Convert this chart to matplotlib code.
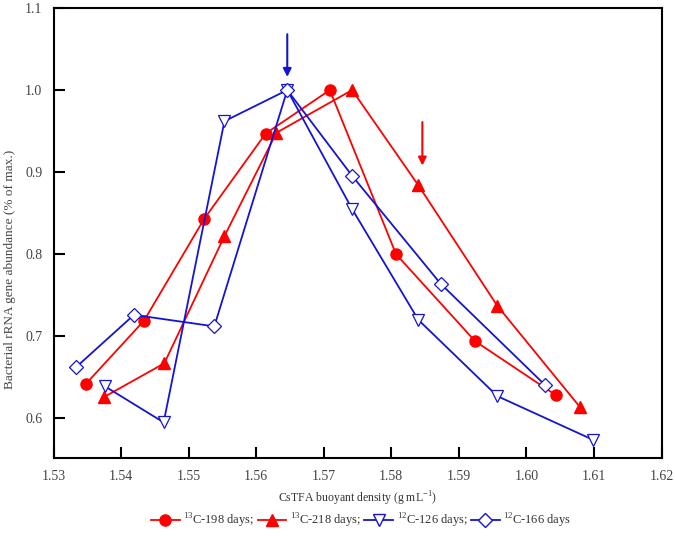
import matplotlib
matplotlib.use("Agg")
import matplotlib.pyplot as plt
from matplotlib.lines import Line2D

plt.rcParams["font.family"] = ["Liberation Serif", "DejaVu Serif"]
plt.rcParams["mathtext.fontset"] = "custom"
plt.rcParams["mathtext.rm"] = "Liberation Serif"

RED = "#ff0000"
BLUE = "#1414d2"

# 13C - 198 days (filled red circles)
c198_x = [1.5348, 1.5434, 1.5523, 1.5614, 1.5709, 1.5807, 1.5924, 1.6044]
c198_y = [0.642, 0.719, 0.843, 0.947, 1.000, 0.800, 0.694, 0.628]

# 13C - 218 days (filled red triangles)
c218_x = [1.5375, 1.5464, 1.5553, 1.5630, 1.5742, 1.5840, 1.5957, 1.6079]
c218_y = [0.626, 0.667, 0.822, 0.948, 1.000, 0.884, 0.737, 0.614]

# 12C - 126 days (open blue down-triangles)
c126_x = [1.5376, 1.5463, 1.5553, 1.5646, 1.5742, 1.5840, 1.5957, 1.6098]
c126_y = [0.639, 0.595, 0.962, 1.000, 0.855, 0.720, 0.627, 0.574]

# 12C - 166 days (open blue diamonds)
c166_x = [1.5333, 1.5419, 1.5538, 1.5646, 1.5742, 1.5873, 1.6027]
c166_y = [0.662, 0.726, 0.712, 1.000, 0.8955, 0.764, 0.641]

x_ticks = [1.53, 1.54, 1.55, 1.56, 1.57, 1.58, 1.59, 1.60, 1.61, 1.62]
y_ticks = [0.6, 0.7, 0.8, 0.9, 1.0, 1.1]

# arrows marking the peak fractions (x, y_start, y_end)
blue_arrow = (1.5646, 1.068, 1.016)
red_arrow = (1.5846, 0.961, 0.908)

fig = plt.figure(figsize=(6.75, 5.36), dpi=100)
ax = fig.add_axes([0.0793, 0.1446, 0.9007, 0.8405])

lw = 1.3
ax.plot(c198_x, c198_y, color=RED, lw=lw, marker="o", ms=8,
        mfc=RED, mec=RED, zorder=3)
ax.plot(c218_x, c218_y, color=RED, lw=lw, marker="^", ms=9,
        mfc=RED, mec=RED, zorder=3)
ax.plot(c126_x, c126_y, color=BLUE, lw=lw, marker="v", ms=9,
        mfc="white", mec=BLUE, mew=0.9, zorder=4)
ax.plot(c166_x, c166_y, color=BLUE, lw=lw, marker="D", ms=7,
        mfc="white", mec=BLUE, mew=0.9, zorder=5)

for (ax_x, y0, y1), col in [(blue_arrow, BLUE), (red_arrow, RED)]:
    ax.annotate("", xy=(ax_x, y1), xytext=(ax_x, y0),
                arrowprops=dict(arrowstyle="-|>", color=col, lw=1.5,
                                mutation_scale=12, shrinkA=0, shrinkB=0))

ax.set_xlim(1.53, 1.62)
ax.set_ylim(0.551, 1.1)
ax.set_xticks(x_ticks)
ax.set_xticklabels(["%.2f" % v for v in x_ticks])
ax.set_yticks(y_ticks)
ax.set_yticklabels(["%.1f" % v for v in y_ticks])
ax.tick_params(direction="in", length=8, width=1.5, labelsize=10,
               colors="black", labelcolor="#444444", pad=8,
               top=False, right=False)
for s in ax.spines.values():
    s.set_linewidth(1.5)

ax.set_xlabel("CsTFA buoyant density (g mL$^{-1}$)", fontsize=8.5,
              color="#333333", labelpad=5)
ax.set_ylabel("Bacterial rRNA gene abundance (% of max.)", fontsize=9.5,
              color="#444444")
ax.yaxis.set_label_coords(-0.062, 0.42)

handles = [
    Line2D([], [], color=RED, lw=lw, marker="o", ms=8, mfc=RED, mec=RED),
    Line2D([], [], color=RED, lw=lw, marker="^", ms=9, mfc=RED, mec=RED),
    Line2D([], [], color=BLUE, lw=lw, marker="v", ms=9, mfc="white", mec=BLUE),
    Line2D([], [], color=BLUE, lw=lw, marker="D", ms=7, mfc="white", mec=BLUE),
]
labels = ["$^{13}$C-198 days;", "$^{13}$C-218 days;",
          "$^{12}$C-126 days;", "$^{12}$C-166 days"]
fig.legend(handles, labels, loc="center", bbox_to_anchor=(0.535, 0.028),
           ncol=4, frameon=False, fontsize=9, handlelength=2.3,
           handletextpad=0.3, columnspacing=0.25, labelcolor="#333333")

fig.savefig("out.png", dpi=100)
